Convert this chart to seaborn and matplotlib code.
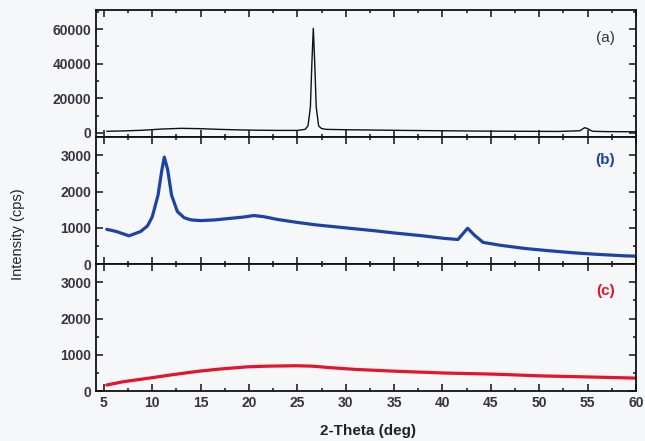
import matplotlib
matplotlib.use("Agg")
import matplotlib.pyplot as plt
from matplotlib.ticker import MultipleLocator
import seaborn as sns
import pandas as pd

# ---- data ----
x_a = [5.3, 7, 9, 11, 13, 15, 17, 19, 21, 23, 25, 25.8, 26.1, 26.35, 26.5, 26.65,
       26.8, 26.95, 27.2, 27.5, 28, 30, 33, 36, 40, 44, 48, 52, 54.2, 54.7, 55.0,
       55.5, 57, 60]
y_a = [900, 1100, 1500, 2200, 2600, 2400, 2000, 1700, 1500, 1400, 1400, 2000, 4000,
       15000, 40000, 60500, 40000, 15000, 4000, 2500, 2000, 1800, 1600, 1400, 1200,
       1000, 900, 800, 1200, 3000, 2400, 900, 700, 600]

x_b = [5.3, 6.3, 7.6, 8.8, 9.5, 10.0, 10.6, 11.0, 11.25, 11.6, 12.0, 12.6, 13.3,
       14.0, 15.0, 16.5, 18.0, 19.5, 20.5, 21.5, 23.0, 25.0, 27.0, 30.0, 33.0, 35.0,
       38.0, 40.2, 41.6, 42.6, 43.3, 44.2, 46, 48.6, 51, 53.7, 56, 58.8, 60]
y_b = [960, 900, 780, 900, 1050, 1300, 1900, 2600, 2950, 2600, 1900, 1450, 1280,
       1220, 1200, 1220, 1260, 1300, 1340, 1310, 1230, 1150, 1080, 1000, 920, 860,
       780, 710, 680, 990, 800, 600, 520, 430, 370, 310, 270, 230, 220]

x_c = [5.3, 7, 9.7, 12, 14.8, 17, 19.8, 22, 24.9, 26.5, 28.3, 31, 35.1, 40.2, 45.2,
       50.3, 55.4, 60]
y_c = [170, 260, 360, 450, 550, 610, 670, 690, 700, 690, 650, 600, 550, 500, 470,
       420, 390, 360]

panel_labels = ["(a)", "(b)", "(c)"]
colors = ["#111111", "#1b44a6", "#e3142b"]
y_limits = [(-2500, 71000), (0, 3500), (0, 3500)]
y_ticks = [[0, 20000, 40000, 60000], [0, 1000, 2000, 3000], [0, 1000, 2000, 3000]]
y_minor = [10000, 500, 500]
x_ticks = [5, 10, 15, 20, 25, 30, 35, 40, 45, 50, 55, 60]

sns.set_theme(style="ticks")
plt.rcParams["font.family"] = ["Liberation Sans", "DejaVu Sans"]

bg = "#f6f7f9"
fig = plt.figure(figsize=(6.45, 4.41), dpi=100, facecolor=bg)
left, right, top, bottom = 0.149, 0.986, 0.977, 0.113
h = (top - bottom) / 3
axes = [fig.add_axes([left, top - (i + 1) * h, right - left, h]) for i in range(3)]

datasets = [(x_a, y_a), (x_b, y_b), (x_c, y_c)]
lws = [1.0, 2.3, 2.3]
lab_y = [0.78, 0.82, 0.79]
tick_col = "#3a3242"

for i, ax in enumerate(axes):
    xs, ys = datasets[i]
    df = pd.DataFrame({"x": xs, "y": ys})
    sns.lineplot(data=df, x="x", y="y", ax=ax, color=colors[i], lw=lws[i],
                 estimator=None, sort=False)
    ax.set_facecolor(bg)
    ax.set_xlim(4.2, 60)
    ax.set_ylim(*y_limits[i])
    ax.set_xticks(x_ticks)
    ax.xaxis.set_minor_locator(MultipleLocator(2.5))
    ax.set_yticks(y_ticks[i])
    ax.yaxis.set_minor_locator(MultipleLocator(y_minor[i]))
    ax.set_ylim(*y_limits[i])
    ax.tick_params(which="both", direction="in", top=True, right=True,
                   color="#111111", width=1.1, labelcolor=tick_col)
    ax.tick_params(which="major", length=5)
    ax.tick_params(which="minor", length=2.5)
    ax.tick_params(axis="y", labelsize=10)
    for lab in ax.get_yticklabels():
        lab.set_fontweight("bold")
    for sp in ax.spines.values():
        sp.set_linewidth(1.3)
        sp.set_color("#111111")
    ax.set_xlabel("")
    ax.set_ylabel("")
    ax.text(0.943, lab_y[i], panel_labels[i], transform=ax.transAxes,
            ha="center", va="center", fontsize=11,
            color=colors[i] if i > 0 else "#333333",
            fontweight="bold" if i > 0 else "normal")
    if i < 2:
        ax.tick_params(axis="x", labelbottom=False)
    else:
        ax.tick_params(axis="x", labelsize=10)
        for lab in ax.get_xticklabels():
            lab.set_fontweight("bold")

fig.text(0.571, 0.006, "2-Theta (deg)", ha="center", va="bottom", fontsize=11,
         fontweight="bold", color="#222222")
fig.text(0.028, 0.47, "Intensity (cps)", ha="center", va="center", rotation=90,
         fontsize=10.5, color="#222222")

fig.savefig("out.png", dpi=100, facecolor=bg)
